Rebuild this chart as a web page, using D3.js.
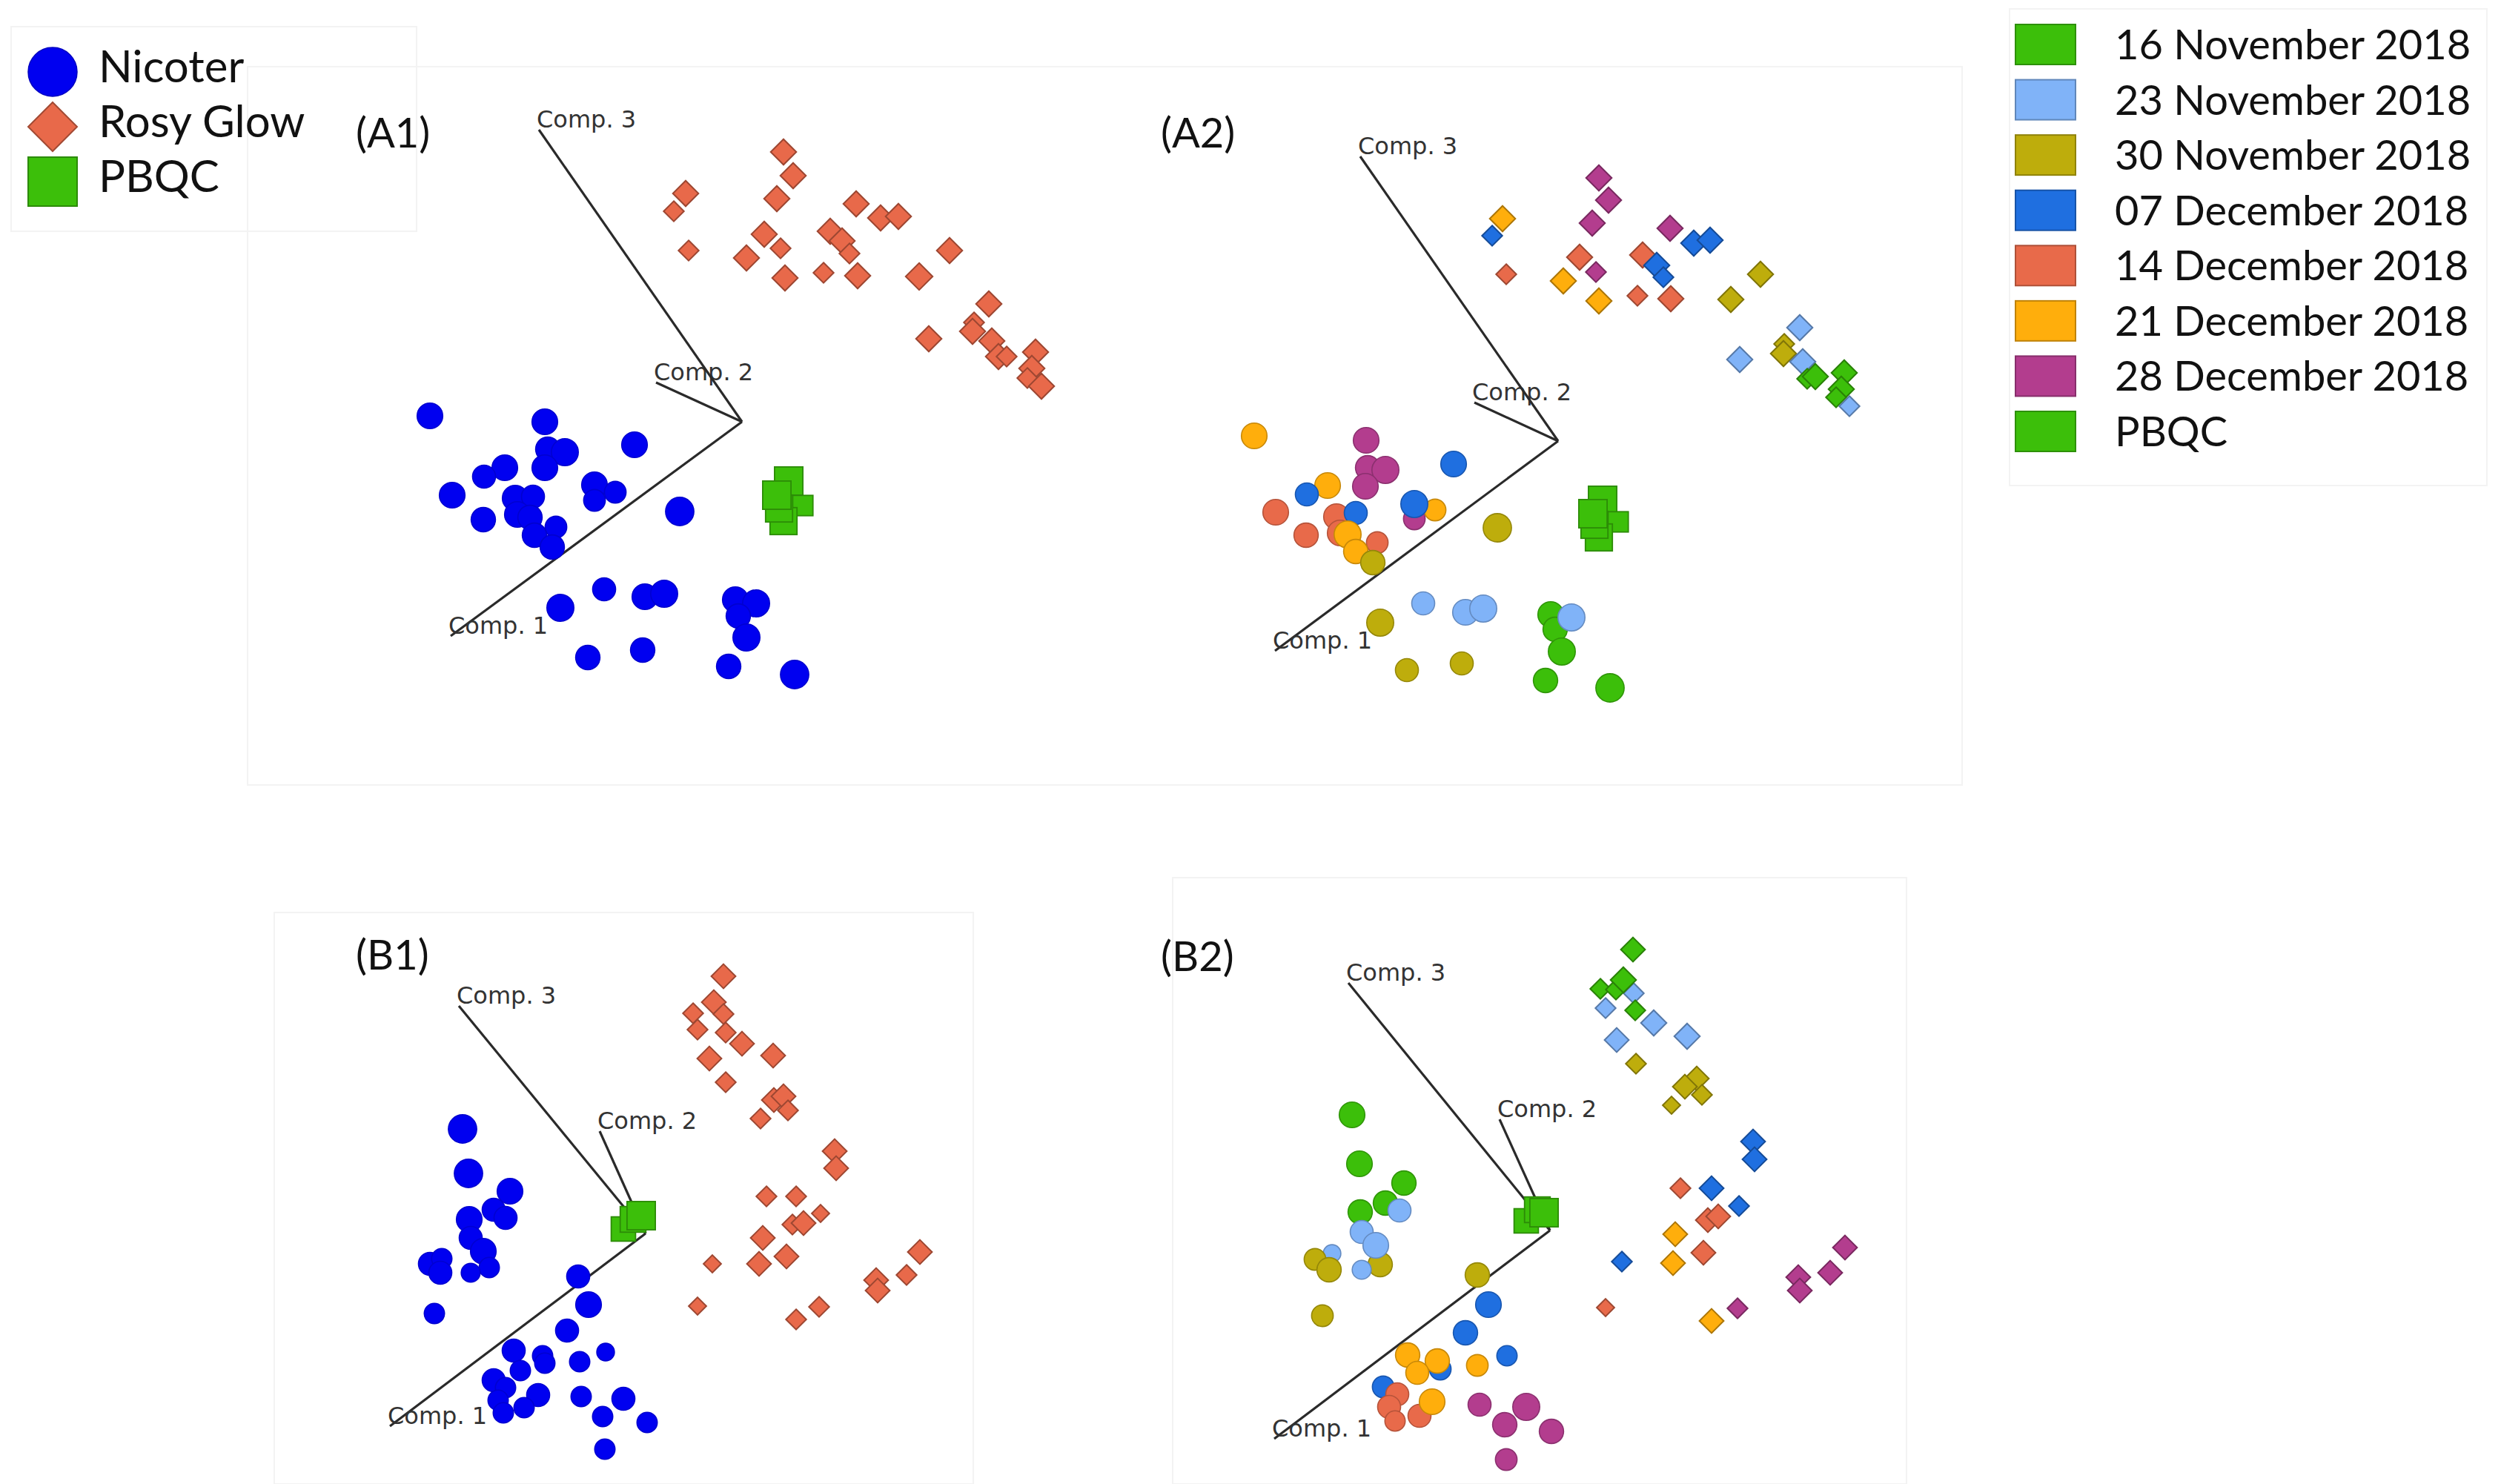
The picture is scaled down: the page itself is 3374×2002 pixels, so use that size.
<!DOCTYPE html>
<html><head><meta charset="utf-8">
<script src="https://cdn.jsdelivr.net/npm/d3@7"></script>
<style>html,body{margin:0;padding:0;background:#fff;}svg{display:block;}</style>
</head><body>
<svg id="chart" width="3374" height="2002"></svg>
<script>
// ---------- labels ----------
const speciesNames = ["Nicoter", "Rosy Glow", "PBQC"];
const dateLabels = ["16 November 2018", "23 November 2018", "30 November 2018", "07 December 2018",
  "14 December 2018", "21 December 2018", "28 December 2018", "PBQC"];
const axisNames = ["Comp. 1", "Comp. 2", "Comp. 3"];
const panelNames = ["(A1)", "(A2)", "(B1)", "(B2)"];

// ---------- projected loading vectors (Comp.1, Comp.2, Comp.3) ----------
const axesA1 = [[-3.93, -2.89], [-1.16, 0.53], [-2.74, 3.94]];
const axesA2 = [[-3.82, -2.83], [-1.13, 0.52], [-2.67, 3.84]];
const axesB1 = [[-3.45, -2.60], [-0.62, 1.38], [-2.52, 3.07]];
const axesB2 = [[-3.72, -2.81], [-0.68, 1.50], [-2.72, 3.34]];

// ---------- projected scores [x, y, depth] (+ date index for A2/B2) ----------
const a1Nicoter = [[-4.21,0.08,7],[-2.66,0.00,7],[-1.45,-0.31,7],[-2.62,-0.37,6],[-2.39,-0.41,8],[-3.20,-0.62,7],
  [-3.48,-0.74,5],[-2.66,-0.62,7],[-3.91,-0.99,7],[-1.99,-0.85,7],[-1.71,-0.95,4],[-1.99,-1.06,4],[-3.06,-1.03,7],
  [-2.82,-1.01,5],[-3.49,-1.32,6],[-3.03,-1.25,7],[-2.86,-1.29,6],[-2.51,-1.42,4],[-2.80,-1.53,6],[-2.56,-1.69,6],
  [-0.84,-1.21,9],[-1.86,-2.26,5],[-2.45,-2.51,8],[-1.31,-2.36,7],[-1.05,-2.32,8],[-0.09,-2.40,7],[0.19,-2.45,8],
  [-0.05,-2.62,6],[0.06,-2.91,8],[-2.08,-3.18,6],[-1.34,-3.08,6],[-0.18,-3.30,6],[0.71,-3.41,9]];
const a1Rosy = [[0.56,3.64,7],[0.69,3.32,7],[-0.76,3.08,7],[-0.92,2.84,3],[0.47,3.01,7],[1.54,2.94,7],[1.87,2.75,7],
  [2.11,2.77,7],[0.30,2.53,7],[0.52,2.34,3],[-0.72,2.31,3],[0.06,2.21,7],[1.19,2.57,7],[1.35,2.44,7],[1.45,2.27,3],
  [0.58,1.94,7],[1.10,2.01,3],[1.56,1.97,7],[2.39,1.96,8],[2.80,2.31,7],[3.33,1.59,7],[3.13,1.34,3],[3.11,1.22,7],
  [2.52,1.12,7],[3.37,1.09,7],[3.46,0.88,7],[3.57,0.88,3],[3.96,0.94,7],[3.91,0.72,7],[3.85,0.59,3],[4.04,0.48,7]];
const a1PBQC = [[0.63,-0.80,9],[0.82,-1.13,3],[0.56,-1.34,8],[0.50,-1.17,8],[0.47,-0.99,9]];

const a2Nicoter = [[-4.10,0.07,7,5],[-2.59,0.01,7,6],[-1.41,-0.31,7,3],[-2.57,-0.36,6,6],[-2.33,-0.39,8,6],
  [-3.11,-0.60,7,5],[-3.39,-0.72,5,3],[-2.60,-0.61,7,6],[-3.81,-0.96,7,4],[-1.94,-1.05,4,6],[-1.66,-0.93,4,5],
  [-1.94,-0.85,8,3],[-2.99,-1.02,7,4],[-2.73,-0.97,5,3],[-3.40,-1.27,6,4],[-2.94,-1.24,7,4],[-2.84,-1.26,8,5],
  [-2.44,-1.37,4,4],[-2.73,-1.49,6,5],[-2.50,-1.64,6,2],[-0.82,-1.17,9,2],[-1.82,-2.19,5,1],[-2.40,-2.45,8,2],
  [-1.25,-2.31,7,1],[-1.01,-2.26,8,1],[-0.10,-2.34,7,0],[-0.04,-2.54,6,0],[0.18,-2.38,8,1],[0.05,-2.84,8,0],
  [-2.04,-3.09,5,2],[-1.30,-3.00,5,2],[-0.17,-3.23,6,0],[0.70,-3.33,9,0]];
const a2Rosy = [[0.55,3.55,7,6],[0.68,3.25,7,6],[0.46,2.94,7,6],[-0.89,2.77,3,3],[-0.75,3.00,7,5],[1.51,2.87,7,6],
  [1.83,2.67,7,3],[2.05,2.71,7,3],[0.29,2.48,7,4],[0.51,2.28,3,6],[-0.70,2.25,3,4],[0.07,2.16,7,5],[1.14,2.51,7,4],
  [1.33,2.37,7,3],[1.42,2.21,3,3],[0.55,1.89,7,5],[1.07,1.96,3,4],[1.52,1.92,7,4],[2.33,1.91,7,2],[2.73,2.25,7,2],
  [3.26,1.53,7,1],[3.05,1.31,3,2],[3.04,1.18,7,2],[2.45,1.10,7,1],[3.30,1.07,7,1],[3.36,0.84,3,0],[3.47,0.87,7,0],
  [3.86,0.92,7,0],[3.82,0.70,7,0],[3.75,0.59,3,0],[3.93,0.47,3,1]];
const a2PBQC = [[0.60,-0.80,9],[0.81,-1.09,3],[0.55,-1.30,8],[0.49,-1.13,8],[0.47,-0.98,9]];

const b1Nicoter = [[-2.47,1.41,9],[-2.39,0.81,9],[-1.83,0.57,7],[-2.05,0.32,5],[-1.89,0.21,5],[-2.38,0.19,7],
  [-2.36,-0.06,5],[-2.19,-0.24,7],[-2.91,-0.41,5],[-2.75,-0.34,3],[-2.77,-0.53,5],[-2.11,-0.46,3],[-2.36,-0.53,2],
  [-2.85,-1.08,3],[-0.91,-0.58,5],[-0.77,-0.96,7],[-1.06,-1.31,5],[-1.78,-1.58,5],[-1.39,-1.65,3],[-1.36,-1.75,3],
  [-1.69,-1.85,3],[-0.89,-1.73,3],[-0.54,-1.60,1],[-2.05,-1.98,5],[-1.89,-2.08,3],[-1.45,-2.18,5],[-1.99,-2.25,3],
  [-1.64,-2.35,3],[-1.92,-2.42,3],[-0.87,-2.20,3],[-0.30,-2.23,5],[-0.58,-2.47,3],[0.02,-2.55,3],[-0.55,-2.91,3]];
const b1Rosy = [[1.05,3.47,6],[0.92,3.12,6],[0.64,2.97,3],[1.05,2.96,3],[0.70,2.75,3],[1.08,2.71,3],[1.30,2.56,6],
  [1.72,2.40,6],[0.86,2.36,6],[1.08,2.04,3],[1.73,1.80,6],[1.86,1.85,6],[1.92,1.66,3],[1.55,1.55,3],[2.55,1.11,6],
  [2.57,0.88,6],[1.63,0.50,3],[2.03,0.50,3],[2.36,0.27,1],[1.98,0.12,3],[2.13,0.14,6],[1.58,-0.06,6],[1.90,-0.31,6],
  [1.53,-0.41,6],[0.90,-0.41,1],[0.70,-0.98,1],[2.03,-1.16,3],[2.34,-0.99,3],[3.11,-0.63,6],[3.13,-0.77,6],
  [3.52,-0.56,3],[3.70,-0.25,6]];
const b1PBQC = [[-0.30,0.06,6],[-0.17,0.19,7],[-0.06,0.24,9]];

const b2Nicoter = [[-2.67,1.56,7,0],[-2.57,0.90,7,0],[-1.97,0.64,6,0],[-2.22,0.37,6,0],[-2.56,0.25,6,0],
  [-2.03,0.27,5,1],[-2.29,-0.46,6,2],[-2.54,-0.02,5,1],[-2.35,-0.20,7,1],[-2.94,-0.31,1,1],[-3.17,-0.39,4,2],
  [-2.98,-0.53,6,2],[-2.54,-0.53,2,1],[-3.07,-1.15,4,2],[-0.98,-0.60,6,2],[-0.83,-1.00,7,3],[-1.14,-1.38,6,3],
  [-0.58,-1.69,3,3],[-1.48,-1.87,4,3],[-1.92,-1.68,6,5],[-1.52,-1.76,6,5],[-1.79,-1.92,5,5],[-0.98,-1.82,4,5],
  [-2.25,-2.11,4,3],[-2.06,-2.21,5,4],[-2.17,-2.38,5,4],[-1.76,-2.50,5,4],[-1.59,-2.31,7,5],[-2.09,-2.57,3,4],
  [-0.95,-2.35,5,6],[-0.32,-2.38,8,6],[-0.61,-2.62,6,6],[0.02,-2.71,6,6],[-0.59,-3.09,4,6]];
const b2Rosy = [[1.12,3.79,6,0],[0.68,3.26,3,0],[0.89,3.25,3,0],[1.13,3.20,3,1],[0.99,3.38,7,0],[0.75,3.00,3,1],
  [1.15,2.97,3,0],[1.40,2.80,7,1],[1.85,2.62,7,1],[0.90,2.57,6,1],[1.16,2.25,3,2],[1.98,2.05,6,2],[1.82,1.94,6,2],
  [2.05,1.83,3,2],[1.64,1.69,1,2],[2.74,1.20,6,3],[2.76,0.96,6,3],[1.76,0.57,3,4],[2.18,0.57,6,3],[2.55,0.33,3,3],
  [2.13,0.14,6,4],[2.27,0.19,6,4],[1.69,-0.05,6,5],[2.07,-0.30,6,4],[0.97,-0.42,3,3],[1.66,-0.44,6,5],
  [0.75,-1.04,1,4],[2.18,-1.22,6,5],[2.53,-1.05,3,6],[3.35,-0.63,6,6],[3.37,-0.81,6,6],[3.78,-0.57,6,6],[3.98,-0.23,6,6]];
const b2PBQC = [[-0.32,0.13,6],[-0.17,0.28,7],[-0.08,0.24,9]];

// ---------- styles ----------
const speciesColors = ["#0000f0", "#e8694a", "#3cbf0a"];
const dateColors = ["#3cbf0a", "#80b3f8", "#bead0c", "#1f6fe0", "#e86a4a", "#ffae0c", "#b33d8e", "#3cbf0a"];
const sizeScale = d3.scaleLinear().domain([0, 10]).range([11, 20]);

const svg = d3.select("#chart");
const faint = "#f3f3f3";

// faint frames
[[334, 90, 2313, 969], [370, 1231, 943, 771], [1582, 1184, 990, 818], [15, 36, 547, 276], [2711, 12, 644, 643]]
  .forEach(r => svg.append("rect").attr("x", r[0]).attr("y", r[1]).attr("width", r[2]).attr("height", r[3])
    .attr("fill", "none").attr("stroke", faint).attr("stroke-width", 2));

const panels = [
  {name: panelNames[0], ox: 1001, oy: 569, lx: 480, ly: 199, axes: axesA1, circles: a1Nicoter, diamonds: a1Rosy, squares: a1PBQC, byDate: false},
  {name: panelNames[1], ox: 2102, oy: 595, lx: 1566, ly: 199, axes: axesA2, circles: a2Nicoter, diamonds: a2Rosy, squares: a2PBQC, byDate: true},
  {name: panelNames[2], ox: 871, oy: 1664, lx: 480, ly: 1308, axes: axesB1, circles: b1Nicoter, diamonds: b1Rosy, squares: b1PBQC, byDate: false},
  {name: panelNames[3], ox: 2091, oy: 1660, lx: 1566, ly: 1310, axes: axesB2, circles: b2Nicoter, diamonds: b2Rosy, squares: b2PBQC, byDate: true}
];

function diamondPath(cx, cy, h) {
  return `M${cx},${cy - h}L${cx + h},${cy}L${cx},${cy + h}L${cx - h},${cy}Z`;
}

panels.forEach(p => {
  const g = svg.append("g");
  const x = d3.scaleLinear().domain([-5, 5]).range([p.ox - 500, p.ox + 500]);
  const y = d3.scaleLinear().domain([-5, 5]).range([p.oy + 500, p.oy - 500]);

  g.append("text").attr("x", p.lx).attr("y", p.ly).text(p.name)
    .attr("font-family", "Lato, 'Open Sans', sans-serif").attr("font-size", 56).attr("fill", "#111");

  p.axes.forEach((v, i) => {
    g.append("line").attr("x1", x(0)).attr("y1", y(0)).attr("x2", x(v[0])).attr("y2", y(v[1]))
      .attr("stroke", "#2a2a2a").attr("stroke-width", 3.2);
    g.append("text").attr("x", x(v[0]) - 3).attr("y", y(v[1]) - 3).text(axisNames[i])
      .attr("font-family", "'DejaVu Sans', Verdana, sans-serif").attr("font-size", 32).attr("fill", "#333");
  });

  const colC = d => p.byDate ? dateColors[d[3]] : speciesColors[0];
  const colD = d => p.byDate ? dateColors[d[3]] : speciesColors[1];

  g.append("g").selectAll("rect").data(p.squares).join("rect")
    .attr("x", d => x(d[0]) - sizeScale(d[2])).attr("y", d => y(d[1]) - sizeScale(d[2]))
    .attr("width", d => 2 * sizeScale(d[2])).attr("height", d => 2 * sizeScale(d[2]))
    .attr("fill", speciesColors[2]).attr("stroke", d3.color(speciesColors[2]).darker(0.9)).attr("stroke-width", 1.8);

  g.append("g").selectAll("path").data(p.diamonds).join("path")
    .attr("d", d => diamondPath(x(d[0]), y(d[1]), sizeScale(d[2])))
    .attr("fill", colD).attr("stroke", d => d3.color(colD(d)).darker(1.1)).attr("stroke-width", 2);

  g.append("g").selectAll("circle").data(p.circles).join("circle")
    .attr("cx", d => x(d[0])).attr("cy", d => y(d[1])).attr("r", d => sizeScale(d[2]))
    .attr("fill", colC).attr("stroke", d => d3.color(colC(d)).darker(p.byDate ? 0.7 : 0.4)).attr("stroke-width", 1.6);
});

// ---------- legend 1 (species) ----------
const l1 = svg.append("g");
const row1 = d3.scalePoint().domain(speciesNames).range([97, 245]);
const mx = 71, ms = 33;
l1.append("circle").attr("cx", mx).attr("cy", row1(speciesNames[0])).attr("r", ms)
  .attr("fill", speciesColors[0]).attr("stroke", "#0000c0").attr("stroke-width", 1.5);
l1.append("path").attr("d", diamondPath(mx, row1(speciesNames[1]), ms))
  .attr("fill", speciesColors[1]).attr("stroke", d3.color(speciesColors[1]).darker(1)).attr("stroke-width", 2);
l1.append("rect").attr("x", mx - ms).attr("y", row1(speciesNames[2]) - ms).attr("width", 2 * ms).attr("height", 2 * ms)
  .attr("fill", speciesColors[2]).attr("stroke", d3.color(speciesColors[2]).darker(0.9)).attr("stroke-width", 2);
l1.selectAll("text").data(speciesNames).join("text")
  .attr("x", 133).attr("y", d => row1(d) + 14).text(d => d)
  .attr("font-family", "Lato, 'Open Sans', sans-serif").attr("font-size", 60).attr("fill", "#111");

// ---------- legend 2 (sampling dates) ----------
const l2 = svg.append("g");
const row2 = d3.scalePoint().domain(dateLabels).range([60, 582]);
l2.selectAll("rect").data(dateLabels).join("rect")
  .attr("x", 2719).attr("y", d => row2(d) - 27).attr("width", 81).attr("height", 54)
  .attr("fill", (d, i) => dateColors[i]).attr("stroke", (d, i) => d3.color(dateColors[i]).darker(0.8)).attr("stroke-width", 2);
l2.selectAll("text").data(dateLabels).join("text")
  .attr("x", 2853).attr("y", d => row2(d) + 20).text(d => d)
  .attr("font-family", "Lato, 'Open Sans', sans-serif").attr("font-size", 56).attr("fill", "#111");
</script>
</body></html>
